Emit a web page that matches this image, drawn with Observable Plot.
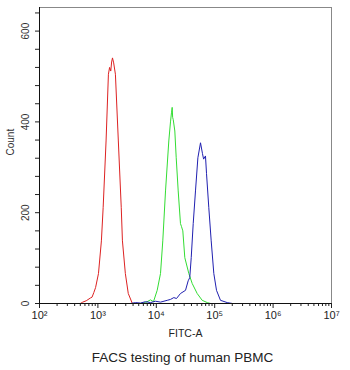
<!DOCTYPE html>
<html><head><meta charset="utf-8">
<script src="https://cdn.jsdelivr.net/npm/d3@7"></script>
<script src="https://cdn.jsdelivr.net/npm/@observablehq/plot@0.6"></script>
<style>body{margin:0;background:#fff;} svg{display:block}</style>
</head><body><div id="chart"></div>
<script>
// Series: FITC-A intensity and event count
const redFitc   = [501, 550, 631, 741, 794, 851, 912, 1023, 1148, 1230, 1380, 1514, 1585, 1660, 1718, 1778, 1862, 1995, 2239, 2512, 2630, 2951, 3311, 3890, 5012];
const redCount  = [0, 3, 6, 12, 14, 24, 35, 66, 138, 211, 358, 505, 520, 512, 532, 541, 530, 505, 358, 211, 138, 66, 22, 0, 0];

const greenFitc  = [5358, 6531, 7962, 8954, 10351, 11803, 12912, 14388, 16368, 17498, 18197, 18707, 19055, 19498, 20749, 21928, 23714, 25942, 26915, 28445, 30761, 36058, 41210, 50119, 61094, 74473, 85114];
const greenCount = [0, 2, 8, 4, 29, 66, 138, 248, 358, 400, 420, 432, 410, 405, 380, 321, 248, 176, 170, 160, 101, 66, 44, 22, 7, 2, 0];

const blueFitc  = [3614, 4406, 5358, 6531, 7962, 9683, 11803, 15382, 17498, 19953, 22182, 25942, 31623, 35156, 37411, 39628, 42855, 46881, 51523, 57150, 61802, 64565, 69502, 72444, 79250, 87096, 96605, 107399, 125603, 163682, 201837];
const blueCount = [0, 2, 1, 4, 2, 5, 3, 7, 9, 13, 11, 22, 29, 50, 57, 101, 176, 248, 321, 354, 330, 318, 325, 286, 211, 138, 66, 29, 7, 2, 0];

const seriesNames  = ["Control", "Sample 1", "Sample 2"];
const seriesColors = ["#dd2222", "#33dd33", "#2020b0"];

// Axis ticks and labels
const xMajorTicks  = [1e2, 1e3, 1e4, 1e5, 1e6, 1e7];
const xMajorLabels = ["10²", "10³", "10⁴", "10⁵", "10⁶", "10⁷"];
const xMinorMultipliers = [2, 3, 4, 5, 6, 7, 8, 9];
const yMinorTicks  = [0, 40, 80, 120, 160, 200, 240, 280, 320, 360, 400, 440, 480, 520, 560, 600, 640];
const yMajorTicks  = [0, 200, 400, 600];
const yLabelText   = "Count";
const xLabelText   = "FITC-A";
const captionText  = "FACS testing of human PBMC";

const xMinorTicks = xMajorTicks.slice(0, -1).flatMap(d => xMinorMultipliers.map(m => d * m));

const data = [
  ...redFitc.map((f, i) => ({series: seriesNames[0], fitc: f, count: redCount[i]})),
  ...greenFitc.map((f, i) => ({series: seriesNames[1], fitc: f, count: greenCount[i]})),
  ...blueFitc.map((f, i) => ({series: seriesNames[2], fitc: f, count: blueCount[i]}))
];

const font = "'Liberation Sans', Arial, sans-serif";

const chart = Plot.plot({
  width: 350,
  height: 370,
  marginLeft: 39,
  marginRight: 19,
  marginTop: 7,
  marginBottom: 67,
  style: {fontFamily: font, background: "#fff", color: "#222"},
  x: {type: "log", domain: [100, 1e7], label: null},
  y: {domain: [0, 652], label: null},
  color: {domain: seriesNames, range: seriesColors},
  marks: [
    Plot.frame({stroke: "#888"}),
    Plot.axisY(yMinorTicks, {tickSize: 4, tickFormat: () => "", stroke: "#222"}),
    Plot.text(yMajorTicks, {y: d => d, text: d => String(d), frameAnchor: "left", dx: -14, rotate: -90, textAnchor: "middle", lineAnchor: "middle", fontSize: 10, fill: "#333"}),
    Plot.axisX(xMinorTicks, {tickSize: 3, tickFormat: () => "", stroke: "#222"}),
    Plot.axisX(xMajorTicks, {tickSize: 5, tickPadding: 3, tickFormat: d => xMajorLabels[xMajorTicks.indexOf(d)], fontSize: 11, stroke: "#222", fill: "#222"}),
    Plot.line(data, {x: "fitc", y: "count", z: "series", stroke: "series", strokeWidth: 1}),
    Plot.ruleX([100], {stroke: "#111"}),
    Plot.ruleY([0], {stroke: "#111"}),
    Plot.text([yLabelText], {frameAnchor: "left", dx: -29, rotate: -90, fontSize: 10, fill: "#333", lineAnchor: "middle"}),
    Plot.text([xLabelText], {frameAnchor: "bottom", dy: 30, fontSize: 10.5, fill: "#222", lineAnchor: "middle"}),
    Plot.text([captionText], {frameAnchor: "bottom", dy: 54, dx: -3, fontSize: 13.5, fill: "#222", lineAnchor: "middle"})
  ]
});
document.getElementById("chart").append(chart);
</script>
</body></html>
